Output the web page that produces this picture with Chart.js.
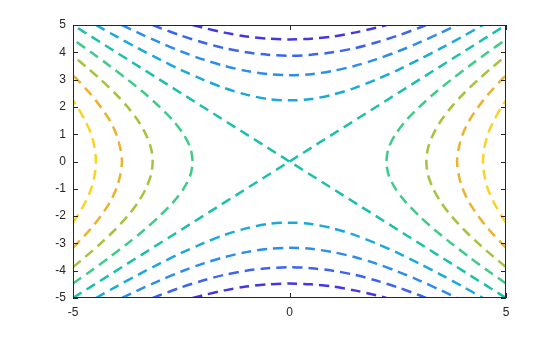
<!DOCTYPE html>
<html>
<head>
<meta charset="utf-8">
<script src="https://cdn.jsdelivr.net/npm/chart.js@4.4.0/dist/chart.umd.min.js"></script>
<style>
  body { margin: 0; background: #fff; }
  #wrap { width: 560px; height: 337px; }
</style>
</head>
<body>
<div id="wrap"><canvas id="contour"></canvas></div>
<script>
// contour levels and colours
var levels = [-20, -15, -10, -5, 0, 5, 10, 15, 20];
var levelColors = ['#4536e3', '#3c64f2', '#2b8ded', '#19a9dc', '#1bbfae', '#3fcb88', '#a3c43c', '#ebb22d', '#f9d423'];

// each |level| is drawn as two branches; pos = position along the branch axis,
// dist = distance from the centre line at that position
var pos0  = [-5, 0, 5];
var dist0 = [5, 0, 5];
var pos5  = [-4.47, -4, -3.5, -3, -2.5, -2, -1.5, -1, -0.5, 0, 0.5, 1, 1.5, 2, 2.5, 3, 3.5, 4, 4.47];
var dist5 = [5, 4.58, 4.15, 3.74, 3.35, 3, 2.69, 2.45, 2.29, 2.24, 2.29, 2.45, 2.69, 3, 3.35, 3.74, 4.15, 4.58, 5];
var pos10  = [-3.87, -3.5, -3, -2.5, -2, -1.5, -1, -0.5, 0, 0.5, 1, 1.5, 2, 2.5, 3, 3.5, 3.87];
var dist10 = [5, 4.72, 4.36, 4.03, 3.74, 3.5, 3.32, 3.2, 3.16, 3.2, 3.32, 3.5, 3.74, 4.03, 4.36, 4.72, 5];
var pos15  = [-3.16, -3, -2.5, -2, -1.5, -1, -0.5, 0, 0.5, 1, 1.5, 2, 2.5, 3, 3.16];
var dist15 = [5, 4.9, 4.61, 4.36, 4.15, 4, 3.91, 3.87, 3.91, 4, 4.15, 4.36, 4.61, 4.9, 5];
var pos20  = [-2.24, -2, -1.5, -1, -0.5, 0, 0.5, 1, 1.5, 2, 2.24];
var dist20 = [5, 4.9, 4.72, 4.58, 4.5, 4.47, 4.5, 4.58, 4.72, 4.9, 5];

var xTicks = [-5, 0, 5];
var yTicks = [-5, -4, -3, -2, -1, 0, 1, 2, 3, 4, 5];

var branches = { 0: [pos0, dist0], 5: [pos5, dist5], 10: [pos10, dist10], 15: [pos15, dist15], 20: [pos20, dist20] };

var datasets = [];
for (var i = 0; i < levels.length; i++) {
    var lv = levels[i];
    var b = branches[Math.abs(lv)];
    var p = b[0], d = b[1];
    for (var side = -1; side <= 1; side += 2) {
        var pts = [];
        for (var k = 0; k < p.length; k++) {
            if (lv >= 0) pts.push({ x: side * d[k], y: p[k] });   // opens left/right
            else pts.push({ x: p[k], y: side * d[k] });            // opens up/down
        }
        datasets.push({
            data: pts,
            showLine: true,
            borderColor: levelColors[i],
            borderWidth: 2.5,
            borderDash: [10, 6],
            pointRadius: 0,
            tension: lv === 0 ? 0 : 0.3,
            fill: false
        });
    }
}

// box around the plot with inward tick marks
var boxPlugin = {
    id: 'box',
    afterDatasetsDraw: function(chart) {
        var ctx = chart.ctx, a = chart.chartArea;
        var xs = chart.scales.x, ys = chart.scales.y;
        ctx.save();
        ctx.strokeStyle = '#262626';
        ctx.lineWidth = 1;
        ctx.strokeRect(a.left + 0.5, a.top + 0.5, a.right - a.left - 1, a.bottom - a.top - 1);
        ctx.beginPath();
        xTicks.forEach(function(v) {
            var px = Math.round(xs.getPixelForValue(v)) + 0.5;
            ctx.moveTo(px, a.bottom); ctx.lineTo(px, a.bottom - 5);
            ctx.moveTo(px, a.top); ctx.lineTo(px, a.top + 5);
        });
        yTicks.forEach(function(v) {
            var py = Math.round(ys.getPixelForValue(v)) + 0.5;
            ctx.moveTo(a.left, py); ctx.lineTo(a.left + 5, py);
            ctx.moveTo(a.right, py); ctx.lineTo(a.right - 5, py);
        });
        ctx.stroke();
        ctx.restore();
    }
};

new Chart(document.getElementById('contour'), {
    type: 'scatter',
    data: { datasets: datasets },
    options: {
        responsive: true,
        maintainAspectRatio: false,
        animation: false,
        layout: { padding: { left: 0, right: 54, top: 25, bottom: 0 } },
        plugins: { legend: { display: false }, tooltip: { enabled: false } },
        scales: {
            x: {
                type: 'linear', min: -5, max: 5,
                grid: { display: false, drawTicks: false },
                border: { display: false },
                afterFit: function(s) { s.height = 39; },
                afterBuildTicks: function(s) { s.ticks = xTicks.map(function(v) { return { value: v }; }); },
                ticks: { padding: 7, color: '#262626', font: { family: 'Liberation Sans', size: 12 } }
            },
            y: {
                type: 'linear', min: -5, max: 5,
                grid: { display: false, drawTicks: false },
                border: { display: false },
                afterFit: function(s) { s.width = 73; },
                afterBuildTicks: function(s) { s.ticks = yTicks.map(function(v) { return { value: v }; }); },
                ticks: { padding: 7, color: '#262626', font: { family: 'Liberation Sans', size: 12 } }
            }
        }
    },
    plugins: [boxPlugin]
});
</script>
</body>
</html>
